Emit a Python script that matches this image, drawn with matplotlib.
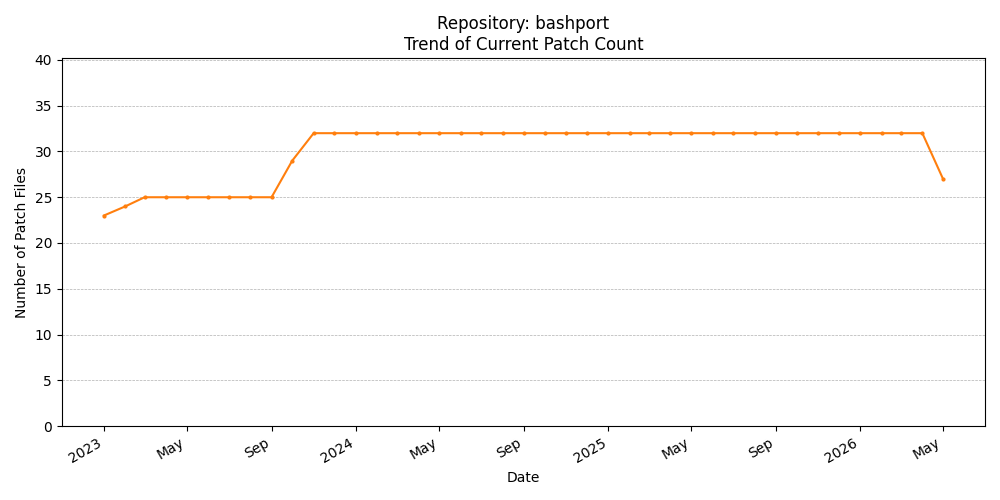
import pandas as pd
import matplotlib
matplotlib.use('Agg')
import matplotlib.pyplot as plt
import matplotlib.dates as mdates

repo_name = 'bashport'
dates = pd.date_range('2023-01-01', '2026-05-01', freq='MS')
patch_counts = [23, 24, 25, 25, 25, 25, 25, 25, 25, 29, 32, 32,
                32, 32, 32, 32, 32, 32, 32, 32, 32, 32, 32, 32,
                32, 32, 32, 32, 32, 32, 32, 32, 32, 32, 32, 32,
                32, 32, 32, 32, 27]

fig, ax = plt.subplots(figsize=(10, 5), dpi=100)
ax.plot(dates, patch_counts, color='tab:orange', marker='o', markersize=2, linewidth=1.5)

ax.set_title(f'Repository: {repo_name}\nTrend of Current Patch Count')
ax.set_xlabel('Date')
ax.set_ylabel('Number of Patch Files')
ax.set_ylim(0, 40.2)
ax.set_yticks(range(0, 41, 5))
ax.grid(axis='y', linestyle='--', linewidth=0.5)

locator = mdates.MonthLocator(bymonth=[1, 5, 9])
ax.xaxis.set_major_locator(locator)
ax.xaxis.set_major_formatter(mdates.ConciseDateFormatter(locator))
fig.autofmt_xdate()

plt.tight_layout()
plt.savefig('out.png')
